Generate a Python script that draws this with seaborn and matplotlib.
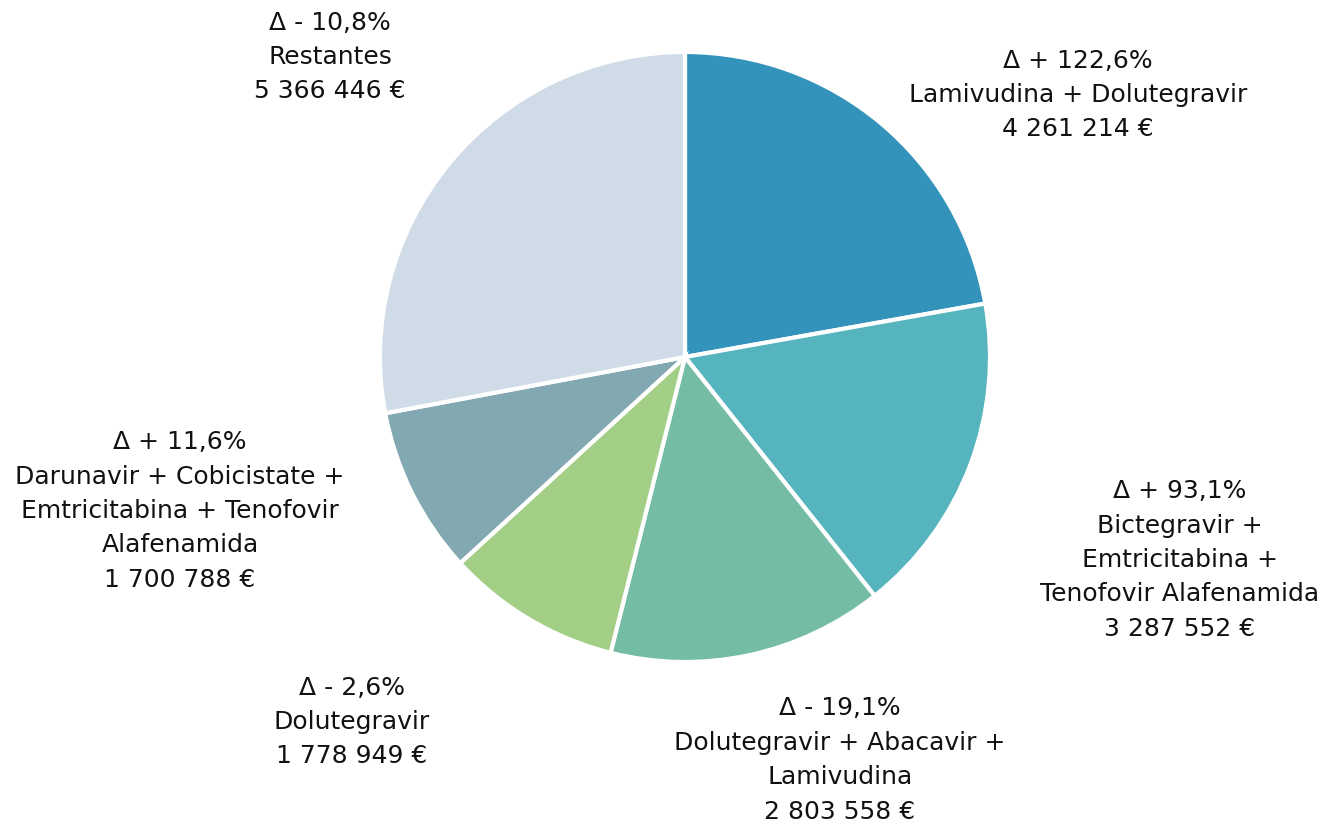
from matplotlib import pyplot as plt
import seaborn as sns

# Data
names = ["Lamivudina + Dolutegravir",
         "Bictegravir +\nEmtricitabina +\nTenofovir Alafenamida",
         "Dolutegravir + Abacavir +\nLamivudina",
         "Dolutegravir",
         "Darunavir + Cobicistate +\nEmtricitabina + Tenofovir\nAlafenamida",
         "Restantes"]
values = [4261214, 3287552, 2803558, 1778949, 1700788, 5366446]
deltas = ["+ 122,6%", "+ 93,1%", "- 19,1%", "- 2,6%", "+ 11,6%", "- 10,8%"]
colors = ["#3493BA", "#56B4BF", "#75BCA7", "#A3CE86", "#82A9B2", "#CFDBE6"]

# label block centres (pixel coords, y from top)
label_pos = [(1078, 95), (1180, 560), (840, 760), (352, 722), (180, 511), (330, 57)]

sns.set_theme(style="white")
plt.rcParams["font.family"] = ["DejaVu Sans"]

W, H = 1329, 825
fig = plt.figure(figsize=(W / 100, H / 100), dpi=100)
ax = fig.add_axes([0, 0, 1, 1])

ax.pie(values, colors=colors, startangle=90, counterclock=False,
       center=(685, H - 357), radius=305,
       wedgeprops=dict(edgecolor="white", linewidth=3), frame=True)
ax.set_xlim(0, W)
ax.set_ylim(0, H)
ax.set_aspect("equal")
ax.axis("off")

def fmt_eur(v):
    return f"{v:,}".replace(",", " ") + " €"

for name, v, d, (x, y) in zip(names, values, deltas, label_pos):
    txt = f"Δ {d}\n{name}\n{fmt_eur(v)}"
    ax.text(x, H - y, txt, ha="center", va="center", fontsize=18,
            color="#111111", linespacing=1.55)

fig.savefig("out.png", dpi=100)
